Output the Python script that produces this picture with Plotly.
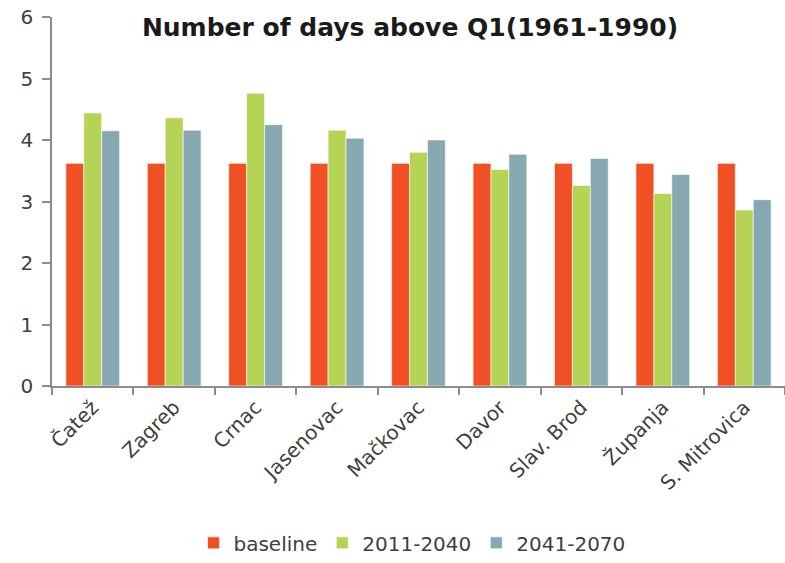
import plotly.graph_objects as go

stations = ["Čatež", "Zagreb", "Crnac", "Jasenovac", "Mačkovac",
            "Davor", "Slav. Brod", "Županja", "S. Mitrovica"]
baseline = [3.62, 3.62, 3.62, 3.62, 3.62, 3.62, 3.62, 3.62, 3.62]
p2011_2040 = [4.44, 4.36, 4.76, 4.16, 3.80, 3.52, 3.26, 3.13, 2.86]
p2041_2070 = [4.15, 4.16, 4.25, 4.03, 4.00, 3.77, 3.70, 3.44, 3.03]

series = [
    ("baseline", baseline, "#F15025"),
    ("2011-2040", p2011_2040, "#B5D455"),
    ("2041-2070", p2041_2070, "#87A8B0"),
]

W, H = 785, 563
FONT = "DejaVu Sans, Verdana, sans-serif"

fig = go.Figure()
for name, vals, col in series:
    fig.add_trace(go.Bar(
        x=stations, y=vals, name=name,
        marker=dict(color=col, line=dict(color="rgba(255,255,255,0.6)", width=1)),
    ))

fig.update_layout(
    width=W, height=H,
    margin=dict(l=52, r=0, t=17, b=172),
    paper_bgcolor="white", plot_bgcolor="white",
    barmode="group", bargap=0.34, bargroupgap=0,
    font=dict(family=FONT, color="#404040", size=19),
    title=dict(
        text="<b>Number of days above Q1(1961-1990)</b>",
        x=410 / W, xanchor="center", xref="container",
        y=1 - 27 / H, yanchor="middle", yref="container",
        font=dict(family=FONT, size=25, color="#1a1a1a"),
    ),
    xaxis=dict(
        showline=True, linecolor="#8c8c8c", linewidth=1.5,
        ticks="outside", ticklen=7, tickcolor="#8c8c8c", tickwidth=1.5,
        tickangle=-45, tickson="boundaries",
        tickfont=dict(size=20, color="#404040"),
        showgrid=False, zeroline=False,
    ),
    yaxis=dict(
        range=[0, 6], dtick=1,
        showline=True, linecolor="#8c8c8c", linewidth=1.5,
        ticks="outside", ticklen=8, tickcolor="#8c8c8c", tickwidth=1.5,
        tickfont=dict(size=20, color="#404040"),
        ticklabelstandoff=5,
        showgrid=False, zeroline=False,
    ),
    legend=dict(
        orientation="h", x=(412 - 52) / (W - 52), xanchor="center",
        y=(391 - 550) / 374, yanchor="middle",
        font=dict(size=20, color="#404040"),
        itemwidth=30, traceorder="normal",
    ),
    showlegend=True,
)

fig.write_html("out.html")
